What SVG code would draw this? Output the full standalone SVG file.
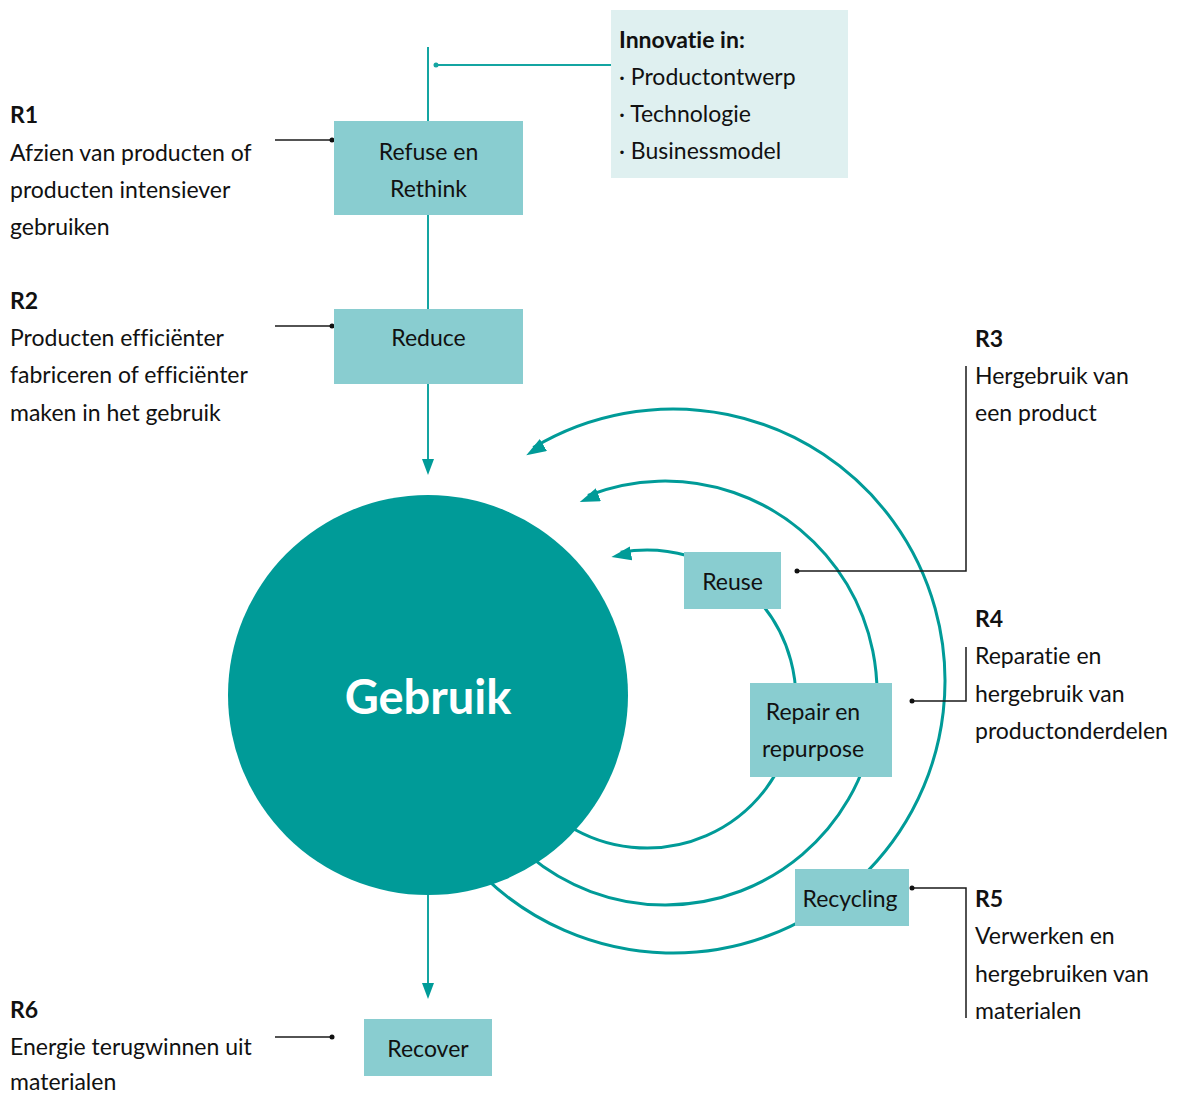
<svg xmlns="http://www.w3.org/2000/svg" width="1177" height="1095" viewBox="0 0 1177 1095">
<style>
text { font-family: Lato, "Open Sans", "Liberation Sans", sans-serif; font-size: 23px; fill: #111; font-variant-ligatures: none; font-feature-settings: "liga" 0, "dlig" 0; }
.b { font-weight: bold; }
.c { text-anchor: middle; }
.box { fill: #89CDD0; }
.flow { fill: none; stroke: #14A5A2; stroke-width: 2; }
.arc { fill: none; stroke: #009B98; stroke-width: 3; marker-end: url(#ah); }
.lead { fill: none; stroke: #1a1a1a; stroke-width: 1.5; }
.dot { fill: #111; }
</style>
<defs>
<marker id="ah" markerUnits="userSpaceOnUse" markerWidth="22" markerHeight="20" refX="10" refY="10" orient="auto">
<path d="M0,0 L20,7 L0,14 z" fill="#009B98"/>
</marker>
<marker id="ahs" markerUnits="userSpaceOnUse" markerWidth="18" markerHeight="14" refX="11" refY="6" orient="auto">
<path d="M0,0 L16,6 L0,12 z" fill="#009B98"/>
</marker>
</defs>
<rect width="1177" height="1095" fill="#ffffff"/>

<g id="connectors">
<path class="flow" d="M428,47 V470" marker-end="url(#ahs)"/>
<path class="flow" d="M428,880 V994" marker-end="url(#ahs)"/>
<path class="flow" d="M436,65 H611" stroke-width="1.5"/>
<circle cx="436" cy="65" r="2.5" fill="#14A5A2"/>
<path class="arc" d="M568.0,825.4 A149,149 0 1 0 620.7,552.3"/>
<path class="arc" d="M528.7,855.4 A212,212 0 1 0 588.0,495.5"/>
<path class="arc" d="M484.1,876.7 A272,272 0 1 0 533.3,447.6"/>
<path class="lead" d="M275,140 H332"/>
<circle class="dot" cx="332" cy="140" r="2.5"/>
<path class="lead" d="M275,326 H332"/>
<circle class="dot" cx="332" cy="326" r="2.5"/>
<path class="lead" d="M275,1037 H332"/>
<circle class="dot" cx="332" cy="1037" r="2.5"/>
<path class="lead" d="M797,571 H966 V366"/>
<circle class="dot" cx="797" cy="571" r="2.5"/>
<path class="lead" d="M912,701 H966 V647"/>
<circle class="dot" cx="912" cy="701" r="2.5"/>
<path class="lead" d="M912,888 H966 V1018"/>
<circle class="dot" cx="912" cy="888" r="2.5"/>
</g>

<g id="innovatie">
<rect x="611" y="10" width="237" height="168" fill="#DFF0F0"/>
<text class="b" x="619" y="48">Innovatie in:</text>
<text x="619" y="85">· Productontwerp</text>
<text x="619" y="122">· Technologie</text>
<text x="619" y="159">· Businessmodel</text>
</g>

<g id="refuse">
<rect class="box" x="334" y="121" width="189" height="94"/>
<text class="c" x="428.5" y="160">Refuse en</text>
<text class="c" x="428.5" y="197">Rethink</text>
</g>

<g id="reduce">
<rect class="box" x="334" y="309" width="189" height="75"/>
<text class="c" x="428.5" y="346">Reduce</text>
</g>

<g id="gebruik">
<circle cx="428" cy="695" r="200" fill="#009B98"/>
<text class="c b" x="428" y="714" style="font-size:47px;fill:#ffffff">Gebruik</text>
</g>

<g id="reuse">
<rect class="box" x="684" y="552" width="97" height="57"/>
<text class="c" x="732.5" y="590">Reuse</text>
</g>

<g id="repair">
<rect class="box" x="750" y="683" width="142" height="94"/>
<text class="c" x="813" y="720">Repair en</text>
<text class="c" x="813" y="757">repurpose</text>
</g>

<g id="recycling">
<rect class="box" x="795" y="869" width="114" height="57"/>
<text class="c" x="850" y="907">Recycling</text>
</g>

<g id="recover">
<rect class="box" x="364" y="1019" width="128" height="57"/>
<text class="c" x="428" y="1057">Recover</text>
</g>

<g id="r1">
<text class="b" x="10" y="123">R1</text>
<text x="10" y="161">Afzien van producten of</text>
<text x="10" y="198">producten intensiever</text>
<text x="10" y="235">gebruiken</text>
</g>

<g id="r2">
<text class="b" x="10" y="309">R2</text>
<text x="10" y="346">Producten efficiënter</text>
<text x="10" y="383">fabriceren of efficiënter</text>
<text x="10" y="421">maken in het gebruik</text>
</g>

<g id="r3">
<text class="b" x="975" y="347">R3</text>
<text x="975" y="384">Hergebruik van</text>
<text x="975" y="421">een product</text>
</g>

<g id="r4">
<text class="b" x="975" y="627">R4</text>
<text x="975" y="664">Reparatie en</text>
<text x="975" y="702">hergebruik van</text>
<text x="975" y="739">productonderdelen</text>
</g>

<g id="r5">
<text class="b" x="975" y="907">R5</text>
<text x="975" y="944">Verwerken en</text>
<text x="975" y="982">hergebruiken van</text>
<text x="975" y="1019">materialen</text>
</g>

<g id="r6">
<text class="b" x="10" y="1018">R6</text>
<text x="10" y="1055">Energie terugwinnen uit</text>
<text x="10" y="1090">materialen</text>
</g>
</svg>
